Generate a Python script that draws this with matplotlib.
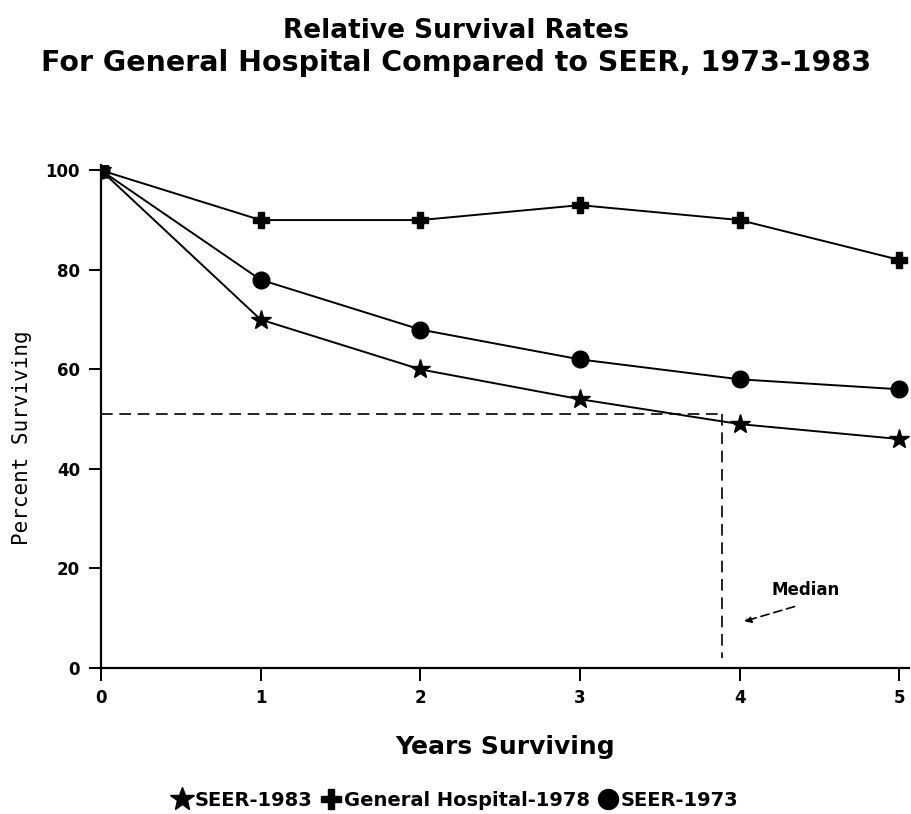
import matplotlib
matplotlib.use("Agg")
import matplotlib.pyplot as plt

# dados
anos = [0, 1, 2, 3, 4, 5]
seer_1983 = [100, 70, 60, 54, 49, 46]
hospital_1978 = [100, 90, 90, 93, 90, 82]
seer_1973 = [100, 78, 68, 62, 58, 56]

mediana_anos = 3.89
mediana_pct = 51

plt.rcParams['font.family'] = ['DejaVu Sans']

fig = plt.figure(figsize=(9.12, 8.14), dpi=100)
ax = fig.add_axes([0.1107, 0.1794, 0.886, 0.6175])

linha = dict(color='black', linewidth=1.4)
ax.plot(anos, seer_1983, marker='*', markersize=15, label='SEER-1983', **linha)
ax.plot(anos, hospital_1978, marker='P', markersize=12, label='General Hospital-1978', **linha)
ax.plot(anos, seer_1973, marker='o', markersize=12, label='SEER-1973', **linha)

# linhas da mediana
ax.plot([0, mediana_anos], [mediana_pct, mediana_pct], color='black', linestyle=(0, (7, 4)), linewidth=1.2)
ax.plot([mediana_anos, mediana_anos], [mediana_pct, 2], color='black', linestyle=(0, (7, 4)), linewidth=1.2)

ax.annotate('', xy=(4.01, 9.2), xytext=(4.36, 12.5),
            arrowprops=dict(arrowstyle='-|>', color='black', linestyle=(0, (5, 3)),
                            linewidth=1.2, mutation_scale=10))
ax.text(4.41, 15.7, 'Median', fontsize=12, fontweight='bold', ha='center', va='center')

ax.set_xlim(0, 5.06)
ax.set_ylim(0, 101)
ax.set_xticks(anos)
ax.set_yticks([0, 20, 40, 60, 80, 100])
ax.spines['top'].set_visible(False)
ax.spines['right'].set_visible(False)
ax.spines['left'].set_linewidth(1.6)
ax.spines['bottom'].set_linewidth(1.6)
ax.tick_params(axis='both', direction='out', length=9, width=1.4, labelsize=12, pad=6)
for lbl in ax.get_xticklabels() + ax.get_yticklabels():
    lbl.set_fontweight('bold')

ax.set_xlabel('Years Surviving', fontsize=18, fontweight='bold', labelpad=20)
fig.text(0.024, 0.462, 'Percent Surviving', rotation=90, fontsize=15,
         family='DejaVu Sans Mono', ha='center', va='center')

fig.text(0.5, 0.962, 'Relative Survival Rates', fontsize=19, fontweight='bold', ha='center', va='center')
fig.text(0.5, 0.923, 'For General Hospital Compared to SEER, 1973-1983', fontsize=20.5,
         fontweight='bold', ha='center', va='center')

leg = fig.legend(loc='center', bbox_to_anchor=(0.5, 0.017), ncol=3, frameon=False,
                 handlelength=0.9, handletextpad=0.2, columnspacing=0.5, markerscale=1.2,
                 prop={'weight': 'bold', 'size': 14})
for h in leg.legend_handles:
    h.set_linestyle('none')

fig.savefig('out.png', dpi=100)
